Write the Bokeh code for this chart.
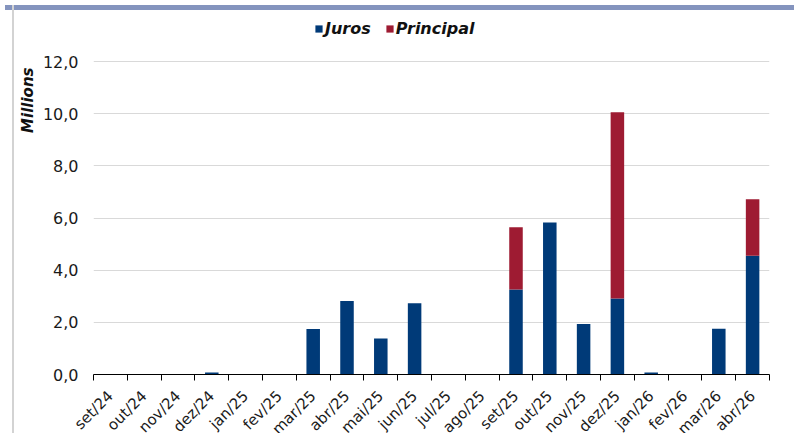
from bokeh.plotting import figure
from bokeh.models import (ColumnDataSource, Range1d, FixedTicker, Legend, LegendItem,
                          Title, Div)
from bokeh.layouts import column
from bokeh.embed import file_html
from bokeh.resources import INLINE
from math import pi

categories = ["set/24", "out/24", "nov/24", "dez/24", "jan/25", "fev/25", "mar/25",
              "abr/25", "mai/25", "jun/25", "jul/25", "ago/25", "set/25", "out/25",
              "nov/25", "dez/25", "jan/26", "fev/26", "mar/26", "abr/26"]
juros = [0, 0, 0, 0.08, 0, 0, 1.74, 2.82, 1.38, 2.73, 0, 0, 3.26, 5.83,
         1.94, 2.91, 0.08, 0, 1.75, 4.55]
principal = [0, 0, 0, 0, 0, 0, 0, 0, 0, 0, 0, 0, 2.39, 0,
             0, 7.15, 0, 0, 0, 2.17]
y_ticks = [0, 2, 4, 6, 8, 10, 12]
y_tick_labels = ["0,0", "2,0", "4,0", "6,0", "8,0", "10,0", "12,0"]

BLUE = "#003a78"
RED = "#9e1b32"
FONT = "DejaVu Sans"

n = len(categories)
centers = [i + 0.5 for i in range(n)]
bounds = [float(i) for i in range(n + 1)]

src = ColumnDataSource(dict(x=centers, cat=categories, juros=juros, principal=principal))

# frame reaches up into the header area so the legend can sit above the 12,0 line
p = figure(frame_width=676, frame_height=364, output_backend="svg", toolbar_location=None,
           x_range=Range1d(0, n), y_range=Range1d(0, 13.957),
           min_border_left=93, min_border_right=25, min_border_top=10,
           min_border_bottom=50)
p.outline_line_color = None
p.background_fill_color = "white"
p.border_fill_color = "white"

rs = p.vbar_stack(["juros", "principal"], x="x", width=0.4, color=[BLUE, RED],
                  line_color=None, source=src)

# x axis: labels at centers, ticks at category boundaries
p.xaxis.ticker = FixedTicker(ticks=centers, minor_ticks=bounds)
p.xaxis.major_label_overrides = {c: lab for c, lab in zip(centers, categories)}
p.xaxis.major_label_orientation = pi / 4
p.xaxis.major_tick_out = 0
p.xaxis.major_tick_in = 0
p.xaxis.minor_tick_out = 6
p.xaxis.minor_tick_in = 0
p.xaxis.minor_tick_line_color = "black"
p.xaxis.axis_line_color = "black"
p.xaxis.major_label_standoff = 13
p.xaxis.major_label_text_font = FONT
p.xaxis.major_label_text_font_size = "15px"
p.xaxis.major_label_text_color = "#1a1a1a"

# y axis
p.yaxis.ticker = FixedTicker(ticks=y_ticks)
p.yaxis.major_label_overrides = {t: lab for t, lab in zip(y_ticks, y_tick_labels)}
p.yaxis.axis_line_color = None
p.yaxis.major_tick_line_color = None
p.yaxis.minor_tick_line_color = None
p.yaxis.major_tick_out = 0
p.yaxis.major_tick_in = 0
p.yaxis.minor_tick_out = 0
p.yaxis.minor_tick_in = 0
p.yaxis.major_label_standoff = 15
p.yaxis.major_label_text_font = FONT
p.yaxis.major_label_text_font_size = "16px"
p.yaxis.major_label_text_color = "#1a1a1a"

p.xgrid.grid_line_color = None
p.ygrid.grid_line_color = "#d9d9d9"
p.ygrid.grid_line_width = 1

legend = Legend(items=[LegendItem(label="Juros", renderers=[rs[0]]),
                       LegendItem(label="Principal", renderers=[rs[1]])],
                orientation="horizontal", location=(221, 336),
                label_text_font=FONT, label_text_font_style="bold italic",
                label_text_font_size="16px", label_text_color="#111111",
                glyph_width=9, glyph_height=9, label_standoff=2, spacing=14,
                padding=0, margin=0, border_line_color=None,
                background_fill_alpha=0)
p.add_layout(legend)

ytitle = Title(text="Millions", align="right", text_font=FONT,
               text_font_style="bold italic", text_font_size="15px",
               text_color="#111111", offset=57, standoff=5)
p.add_layout(ytitle, "left")

band = Div(text="", width=10, height=1,
           styles={"position": "fixed", "top": "0px", "left": "0px",
                   "width": "794px", "height": "5px",
                   "background-color": "#8494be", "z-index": "10"})
vline = Div(text="", width=10, height=1,
            styles={"position": "fixed", "top": "0px", "left": "7px",
                    "width": "2px", "height": "433px",
                    "background-color": "#d3d3d3", "z-index": "11"})

layout = column(p, band, vline)
open("out.html", "w").write(file_html(layout, INLINE))
